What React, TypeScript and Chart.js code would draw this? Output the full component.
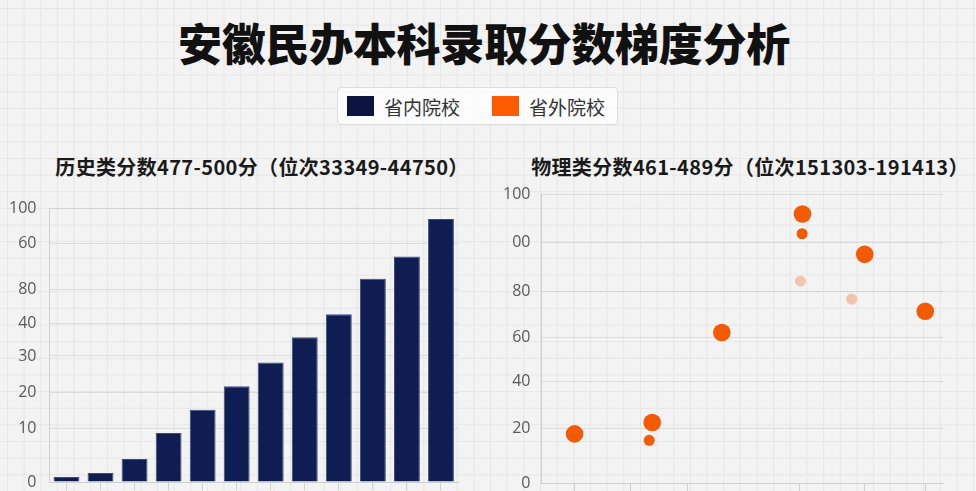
import React, { useEffect, useRef } from "react";
import { Chart, registerables } from "chart.js";

Chart.register(...registerables);

// ---------- Data ----------
const titleText = "安徽民办本科录取分数梯度分析";
const legendLabels = ["省内院校", "省外院校"];
const legendColors = ["#0d1442", "#ff5a00"];

const historyTitle = "历史类分数477-500分（位次33349-44750）";
const historyCategories = [
  "477-478", "479-480", "481-482", "483-484", "485-486", "487-488",
  "489-490", "491-492", "493-494", "495-496", "497-498", "499-500",
];
const historyValues = [1.8, 3.3, 8.4, 17.9, 26.4, 34.9, 43.6, 52.8, 61.2, 74.2, 82.3, 96.0];
const historyTickValues = [0, 19.7, 32.7, 46.0, 57.8, 70.4, 87.2, 100];
const historyTickLabels = ["0", "10", "20", "30", "40", "80", "60", "100"];

const physicsTitle = "物理类分数461-489分（位次151303-191413）";
const physicsBigX = [0.99, 3.31, 5.39, 7.8, 9.66, 11.47];
const physicsBigY = [20.4, 25.1, 62.5, 111.7, 95.0, 71.3];
const physicsSmallX = [3.22, 7.79];
const physicsSmallY = [17.7, 103.5];
const physicsPaleX = [7.74, 9.27];
const physicsPaleY = [83.8, 76.4];
const physicsXTicks = [0.99, 2.67, 4.35, 7.72, 9.64, 11.47];
const physicsTickValues = [0, 22.6, 42, 60.3, 79.7, 99.7, 120];
const physicsTickLabels = ["0", "20", "40", "60", "80", "00", "100"];

const tickFont = { family: "'Open Sans', 'Noto Sans', sans-serif", size: 16 };
const tickColor = "#5a5a5a";
const gridColor = "rgba(0,0,0,0.09)";
const axisColor = "#cfcfcf";

const noVerticalPad = (scale: any) => {
  scale.paddingTop = 0;
  scale.paddingBottom = 0;
};

function HistoryChart() {
  const ref = useRef<HTMLCanvasElement | null>(null);
  useEffect(() => {
    if (!ref.current) return;
    const chart = new Chart(ref.current, {
      type: "bar",
      data: {
        labels: historyCategories,
        datasets: [
          {
            label: legendLabels[0],
            data: historyValues,
            backgroundColor: "#0f1d52",
            borderColor: "#3d4c7e",
            borderWidth: 1,
            barPercentage: 0.76,
            categoryPercentage: 1,
          },
        ],
      },
      options: {
        responsive: false,
        animation: false,
        layout: { autoPadding: false, padding: { top: 18, right: 17, left: 8, bottom: 10 } },
        plugins: { legend: { display: false }, tooltip: { enabled: false } },
        scales: {
          x: {
            ticks: { display: false },
            grid: {
              drawOnChartArea: false,
              drawTicks: true,
              tickLength: 8,
              offset: false,
              color: axisColor,
            },
            border: { color: axisColor },
          },
          y: {
            min: 0,
            max: 100,
            afterBuildTicks: (scale: any) => {
              scale.ticks = historyTickValues.map((v) => ({ value: v }));
            },
            afterFit: noVerticalPad,
            ticks: {
              font: tickFont,
              color: tickColor,
              padding: 13,
              callback: (_v: any, i: number) => historyTickLabels[i],
            },
            grid: { color: gridColor, drawTicks: false },
            border: { color: axisColor },
          },
        },
      },
    });
    return () => chart.destroy();
  }, []);
  return <canvas ref={ref} width={487} height={310} style={{ display: "block" }} />;
}

function PhysicsChart() {
  const ref = useRef<HTMLCanvasElement | null>(null);
  useEffect(() => {
    if (!ref.current) return;
    const toPts = (xs: number[], ys: number[]) => xs.map((x, i) => ({ x, y: ys[i] }));
    const chart = new Chart(ref.current, {
      type: "scatter",
      data: {
        datasets: [
          {
            label: legendLabels[1],
            data: toPts(physicsBigX, physicsBigY),
            backgroundColor: "#f25a05",
            borderWidth: 0,
            pointRadius: 8.8,
          },
          {
            label: legendLabels[1] + "-s",
            data: toPts(physicsSmallX, physicsSmallY),
            backgroundColor: "#f25a05",
            borderWidth: 0,
            pointRadius: 5.5,
          },
          {
            label: legendLabels[1] + "-p",
            data: toPts(physicsPaleX, physicsPaleY),
            backgroundColor: "rgba(242,140,90,0.45)",
            borderWidth: 0,
            pointRadius: 5.5,
          },
        ],
      },
      options: {
        responsive: false,
        animation: false,
        layout: { autoPadding: false, padding: { top: 14, right: 33, left: 12, bottom: 9 } },
        plugins: { legend: { display: false }, tooltip: { enabled: false } },
        scales: {
          x: {
            type: "linear",
            min: 0,
            max: 12,
            afterBuildTicks: (scale: any) => {
              scale.ticks = physicsXTicks.map((v) => ({ value: v }));
            },
            ticks: { display: false },
            grid: {
              drawOnChartArea: false,
              drawTicks: true,
              tickLength: 8,
              color: axisColor,
            },
            border: { color: axisColor },
          },
          y: {
            min: 0,
            max: 120,
            afterBuildTicks: (scale: any) => {
              scale.ticks = physicsTickValues.map((v) => ({ value: v }));
            },
            afterFit: noVerticalPad,
            ticks: {
              font: tickFont,
              color: tickColor,
              padding: 11,
              callback: (_v: any, i: number) => physicsTickLabels[i],
            },
            grid: { color: gridColor, drawTicks: false },
            border: { color: axisColor },
          },
        },
      },
    });
    return () => chart.destroy();
  }, []);
  return <canvas ref={ref} width={496} height={320} style={{ display: "block" }} />;
}

export default function App() {
  const cjk = "'Noto Sans CJK SC', 'Noto Sans', sans-serif";
  const subStyle: React.CSSProperties = {
    position: "absolute",
    top: 153,
    width: 500,
    textAlign: "center",
    fontSize: 20,
    lineHeight: "28px",
    fontWeight: 700,
    color: "#1a1a1a",
    letterSpacing: 0.35,
  };
  return (
    <div
      style={{
        position: "fixed",
        left: 0,
        top: 0,
        width: 976,
        height: 491,
        overflow: "hidden",
        backgroundColor: "#f3f3f3",
        backgroundImage:
          "linear-gradient(#e6e6e6 1px, transparent 1px), linear-gradient(90deg, #e6e6e6 1px, transparent 1px)",
        backgroundSize: "16.67px 16.67px",
        backgroundPosition: "7px 8px",
        fontFamily: cjk,
      }}
    >
      <div
        style={{
          position: "absolute",
          left: 0,
          top: 18,
          width: 968,
          textAlign: "center",
          fontSize: 44,
          lineHeight: "48px",
          fontWeight: 900,
          color: "#111",
          letterSpacing: -0.3,
        }}
      >
        {titleText}
      </div>
      <div
        style={{
          position: "absolute",
          left: 337,
          top: 87,
          width: 281,
          height: 38,
          boxSizing: "border-box",
          background: "rgba(255,255,255,0.75)",
          border: "1px solid #dcdcdc",
          borderRadius: 4,
          display: "flex",
          alignItems: "center",
          fontSize: 19,
          color: "#333",
        }}
      >
        {legendLabels.map((lab, i) => (
          <div key={lab} style={{ display: "flex", alignItems: "center", marginLeft: i === 0 ? 9 : 32 }}>
            <span style={{ display: "inline-block", width: 27, height: 20, background: legendColors[i], marginRight: 10 }} />
            <span>{lab}</span>
          </div>
        ))}
      </div>
      <div style={{ ...subStyle, left: 12 }}>{historyTitle}</div>
      <div style={{ ...subStyle, left: 500 }}>{physicsTitle}</div>
      <div style={{ position: "absolute", left: -12, top: 190, width: 487, height: 310 }}>
        <HistoryChart />
      </div>
      <div style={{ position: "absolute", left: 480, top: 180, width: 496, height: 320 }}>
        <PhysicsChart />
      </div>
    </div>
  );
}
